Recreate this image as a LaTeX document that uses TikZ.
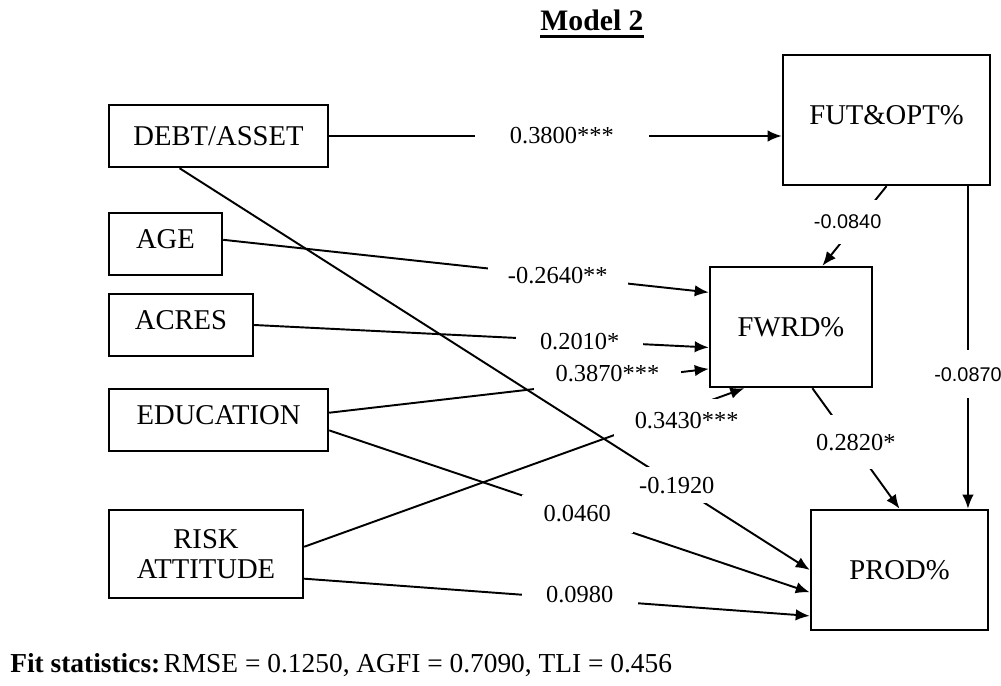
\documentclass[tikz,border=0pt]{standalone}
\usepackage{fontspec}
\setmainfont{Liberation Serif}
\newfontfamily\lblsans{Liberation Sans}
\usetikzlibrary{arrows.meta,calc}
\begin{document}
\begin{tikzpicture}[x=0.02cm,y=-0.02cm,
  box/.style={draw,line width=1.4pt,inner sep=0pt,align=center,
    font=\fontsize{16.3}{17}\selectfont},
  lift/.style={text depth=6pt},
  conn/.style={line width=1.1pt,-{Latex[length=8pt,width=6.5pt]}},
  lbl/.style={fill=white,inner sep=2pt,font=\fontsize{13.9}{16}\selectfont},
  lbls/.style={fill=white,inner sep=2pt,font=\lblsans\fontsize{11.3}{13}\selectfont}]
\useasboundingbox (0,0) rectangle (1001,686);
% title
\node[inner sep=0pt,anchor=base,font=\fontsize{16.9}{18}\selectfont\bfseries] (title) at (592,31) {Model 2};
\draw[line width=1.3pt] ([yshift=-3.2pt]title.base west) -- ([yshift=-3.2pt]title.base east);
% boxes
\node[box,minimum width=4.38cm,minimum height=1.24cm] (debt) at (218.5,136) {DEBT/ASSET};
\node[box,lift,minimum width=2.26cm,minimum height=1.24cm] (age) at (165.5,244) {AGE};
\node[box,lift,minimum width=2.88cm,minimum height=1.24cm] (acres) at (181,325) {ACRES};
\node[box,lift,minimum width=4.38cm,minimum height=1.24cm] (edu) at (218.5,420) {EDUCATION};
\node[box,minimum width=3.88cm,minimum height=1.76cm] (risk) at (206,554) {RISK\\ATTITUDE};
\node[box,lift,minimum width=4.14cm,minimum height=2.60cm] (fut) at (886.5,120) {FUT\&OPT\%};
\node[box,minimum width=3.24cm,minimum height=2.40cm] (fwrd) at (791,327) {FWRD\%};
\node[box,minimum width=3.54cm,minimum height=2.40cm] (prod) at (899.5,570) {PROD\%};
% connectors
\draw[conn] (debt.east) -- node[lbl,pos=0.514,inner xsep=20pt]{0.3800***} (debt.east -| fut.west);
\draw[conn] ($(age.north east)!0.435!(age.south east)$) -- node[lbl,pos=0.689,inner xsep=11.5pt]{-0.2640**} ($(fwrd.north west)!0.217!(fwrd.south west)$);
\draw[conn] (acres.east) -- node[lbl,pos=0.716,inner xsep=13.6pt]{0.2010*} ($(fwrd.north west)!0.667!(fwrd.south west)$);
\draw[conn] ($(edu.north east)!0.387!(edu.south east)$) -- node[lbl,pos=0.733,yshift=4pt,inner xsep=12.5pt,inner ysep=6pt]{0.3870***} ($(fwrd.north west)!0.842!(fwrd.south west)$);
\draw[conn] ($(risk.north east)!0.42!(risk.south east)$) -- node[lbl,pos=0.869,yshift=-6.8pt,inner xsep=11.7pt,inner ysep=7.8pt]{0.3430***} ($(fwrd.south west)!0.216!(fwrd.south east)$);
\draw[conn] ($(edu.north east)!0.661!(edu.south east)$) -- node[lbl,pos=0.516,inner xsep=12.5pt,inner ysep=6pt]{0.0460} ($(prod.north west)!0.683!(prod.south west)$);
\draw[conn] ($(risk.north east)!0.773!(risk.south east)$) -- node[lbl,pos=0.545,yshift=2.8pt,inner xsep=14pt]{0.0980} ($(prod.north west)!0.875!(prod.south west)$);
\draw[conn] (fut.south) -- node[lbls,pos=0.45,xshift=-5.7pt,inner ysep=8.5pt]{-0.0840} ($(fwrd.north west)!0.691!(fwrd.north east)$);
\coordinate (v) at ($(fut.south west)!0.889!(fut.south east)$);
\draw[conn] (v) -- node[lbls,pos=0.583,inner ysep=9.7pt]{-0.0870} (v |- prod.north);
\draw[conn] ($(fwrd.south west)!0.63!(fwrd.south east)$) -- node[lbl,pos=0.447,xshift=2.6pt,inner ysep=10.8pt,inner xsep=1pt]{0.2820*} (prod.north);
\draw[conn] ($(debt.south west)!0.324!(debt.south east)$) -- node[lbl,pos=0.789,inner xsep=2pt,inner ysep=5.5pt]{-0.1920} (prod.west);
% fit statistics
\node[inner sep=0pt,anchor=base west,font=\fontsize{15.6}{18}\selectfont] (fit) at (10,672) {\textbf{Fit statistics:}\hspace{0.12em}RMSE = 0.1250, AGFI = 0.7090, TLI = 0.456};
\end{tikzpicture}
\end{document}
